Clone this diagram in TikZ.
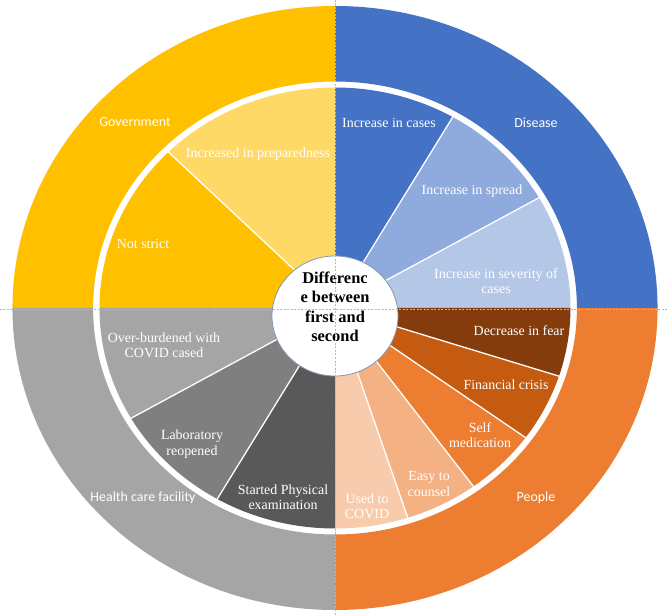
\documentclass[tikz,border=0pt]{standalone}
\usepackage{fontspec}
\setmainfont{Liberation Serif}
\newfontfamily\calib{Carlito}
\usepackage{xcolor}
\usepackage{tikz}
\usetikzlibrary{shapes.geometric}

\definecolor{gold}{HTML}{FFC000}
\definecolor{goldlt}{HTML}{FFD966}
\definecolor{blu}{HTML}{4472C4}
\definecolor{blumd}{HTML}{8FAADC}
\definecolor{blult}{HTML}{B4C7E7}
\definecolor{org}{HTML}{ED7D31}
\definecolor{orgdk}{HTML}{843C0C}
\definecolor{orgmd}{HTML}{C55A11}
\definecolor{orglt}{HTML}{F4B183}
\definecolor{orgxl}{HTML}{F8CBAD}
\definecolor{gry}{HTML}{A5A5A5}
\definecolor{grymd}{HTML}{7F7F7F}
\definecolor{grydk}{HTML}{595959}
\definecolor{rim}{HTML}{8497B0}

\begin{document}
\begin{tikzpicture}[x=1bp, y=1bp,
        ringlbl/.style={text=white, inner sep=0pt, font=\calib\fontsize{14}{16}\selectfont},
        slicelbl/.style={text=white, align=center, inner sep=0pt, font=\fontsize{14}{15.5}\selectfont},
        hubtext/.style={align=center, inner sep=0pt, font=\bfseries\fontsize{16.5}{19.5}\selectfont},
        cut/.style={white, line width=1.3bp},
        guide/.style={black!28, line width=0.6bp, dash pattern=on 2bp off 1.5bp}]

        \useasboundingbox[fill=white] (-335,-308) rectangle (334,308);

        \begin{scope}[xscale=1.068]
        % outer ring
        \fill[gold] (0,302) arc[start angle=90, end angle=180, radius=302] -- (-226.5,0) arc[start angle=180, end angle=90, radius=226.5] -- cycle;
        \fill[blu] (302,0) arc[start angle=0, end angle=90, radius=302] -- (0,226.5) arc[start angle=90, end angle=0, radius=226.5] -- cycle;
        \fill[org] (0,-302) arc[start angle=270, end angle=360, radius=302] -- (226.5,0) arc[start angle=0, end angle=-90, radius=226.5] -- cycle;
        \fill[gry] (-302,0) arc[start angle=180, end angle=270, radius=302] -- (0,-226.5) arc[start angle=270, end angle=180, radius=226.5] -- cycle;

        % inner slices
        \fill[goldlt] (0,0) -- (90:220.5) arc[start angle=90, end angle=135, radius=220.5] -- cycle;
        \fill[gold] (0,0) -- (135:220.5) arc[start angle=135, end angle=180, radius=220.5] -- cycle;
        \fill[blu] (0,0) -- (60:220.5) arc[start angle=60, end angle=90, radius=220.5] -- cycle;
        \fill[blumd] (0,0) -- (30:220.5) arc[start angle=30, end angle=60, radius=220.5] -- cycle;
        \fill[blult] (0,0) -- (0:220.5) arc[start angle=0, end angle=30, radius=220.5] -- cycle;
        \fill[orgdk] (0,0) -- (-18:220.5) arc[start angle=-18, end angle=0, radius=220.5] -- cycle;
        \fill[orgmd] (0,0) -- (-36:220.5) arc[start angle=-36, end angle=-18, radius=220.5] -- cycle;
        \fill[org] (0,0) -- (-54:220.5) arc[start angle=-54, end angle=-36, radius=220.5] -- cycle;
        \fill[orglt] (0,0) -- (-72:220.5) arc[start angle=-72, end angle=-54, radius=220.5] -- cycle;
        \fill[orgxl] (0,0) -- (-90:220.5) arc[start angle=-90, end angle=-72, radius=220.5] -- cycle;
        \fill[gry] (0,0) -- (180:220.5) arc[start angle=180, end angle=210, radius=220.5] -- cycle;
        \fill[grymd] (0,0) -- (210:220.5) arc[start angle=210, end angle=240, radius=220.5] -- cycle;
        \fill[grydk] (0,0) -- (240:220.5) arc[start angle=240, end angle=270, radius=220.5] -- cycle;

        \draw[cut] (0,0) -- (135:220.5);
        \draw[cut] (0,0) -- (60:220.5);
        \draw[cut] (0,0) -- (30:220.5);
        \draw[cut] (0,0) -- (-18:220.5);
        \draw[cut] (0,0) -- (-36:220.5);
        \draw[cut] (0,0) -- (-54:220.5);
        \draw[cut] (0,0) -- (-72:220.5);
        \draw[cut] (0,0) -- (210:220.5);
        \draw[cut] (0,0) -- (240:220.5);
        \end{scope}

        \node[ringlbl] (gov) at (-200,186) {Government};
        \node[ringlbl] (dis) at (201,185) {Disease};
        \node[ringlbl] (peo) at (201,-190) {People};
        \node[ringlbl] (hcf) at (-192,-190) {Health care facility};

        \node[slicelbl] (prep) at (-77,154) {Increased in preparedness};
        \node[slicelbl] (strict) at (-192,64) {Not strict};
        \node[slicelbl] (cases) at (54,185) {Increase in cases};
        \node[slicelbl] (spread) at (137,117) {Increase in spread};
        \node[slicelbl] (sever) at (161,27) {Increase in severity of\\cases};
        \node[slicelbl] (fear) at (184,-23) {Decrease in fear};
        \node[slicelbl] (fin) at (171,-77) {Financial crisis};
        \node[slicelbl] (selfm) at (145,-127) {Self\\medication};
        \node[slicelbl] (couns) at (94,-176) {Easy to\\counsel};
        \node[slicelbl] (used) at (32,-198) {Used to\\COVID};
        \node[slicelbl] (burd) at (-171,-37) {Over-burdened with\\COVID cased};
        \node[slicelbl] (lab) at (-143,-136) {Laboratory\\reopened};
        \node[slicelbl] (phys) at (-52,-189) {Started Physical\\examination};

        \node[ellipse, draw=rim, fill=white, line width=0.8bp, minimum width=126bp, minimum height=120bp, inner sep=0pt] (hub) at (0,-8) {};
        \node[hubtext] (hubtxt) at (0,1) {Differenc\\e between\\first and\\second};

        \coordinate (gl) at (-335,-1);
        \coordinate (gr) at (334,-1);
        \coordinate (gt) at (0.5,308);
        \coordinate (gb) at (0.5,-308);
        \draw[guide] (gl) -- (gr);
        \draw[guide] (gt) -- (gb);
\end{tikzpicture}
\end{document}
